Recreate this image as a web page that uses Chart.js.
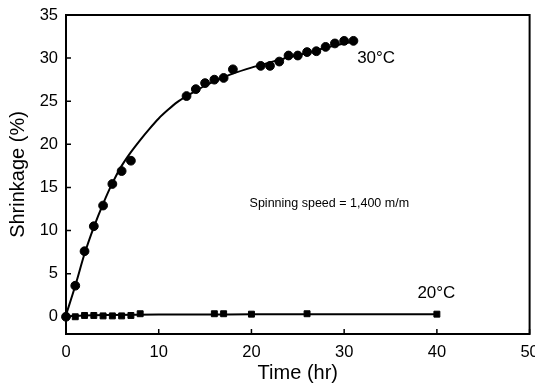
<!DOCTYPE html>
<html>
<head>
<meta charset="utf-8">
<script src="https://cdn.jsdelivr.net/npm/chart.js@4"></script>
<style>
  html, body { margin: 0; padding: 0; background: #fff; }
  #wrap { width: 535px; height: 389px; }
</style>
</head>
<body>
<div id="wrap"><canvas id="chart"></canvas></div>
<script>
// measured points, 30 C
const time30 = [0, 1, 2, 3, 4, 5, 6, 7, 13, 14, 15, 16, 17, 18, 21, 22, 23, 24, 25, 26, 27, 28, 29, 30, 31];
const shrink30 = [0, 3.6, 7.6, 10.5, 12.9, 15.4, 16.9, 18.1, 25.6, 26.4, 27.1, 27.5, 27.7, 28.7, 29.1, 29.1, 29.6, 30.3, 30.3, 30.7, 30.8, 31.3, 31.7, 32.0, 32.0];
// measured points, 20 C
const time20 = [0, 1, 2, 3, 4, 5, 6, 7, 8, 16, 17, 20, 26, 40];
const shrink20 = [0, 0, 0.15, 0.15, 0.1, 0.1, 0.1, 0.15, 0.35, 0.35, 0.35, 0.3, 0.35, 0.3];
// fitted curves
const fitTime30 = [0, 1, 2, 3, 4, 5, 6, 7, 8, 9, 10, 11, 12, 13, 14, 15, 16, 18, 20, 22, 24, 26, 28, 30, 31];
const fitShrink30 = [0.2, 3.6, 7.3, 10.4, 13.1, 15.5, 17.5, 19.1, 20.5, 21.8, 23.0, 24.0, 24.9, 25.6, 26.2, 26.8, 27.3, 28.2, 28.9, 29.5, 30.1, 30.6, 31.2, 31.7, 31.9];
const fitTime20 = [0, 2, 5, 10, 20, 30, 40];
const fitShrink20 = [0.05, 0.15, 0.2, 0.25, 0.28, 0.3, 0.3];
// axis ticks
const xTicks = [0, 10, 20, 30, 40, 50];
const yTicks = [0, 5, 10, 15, 20, 25, 30, 35];

const pts = (xs, ys) => xs.map((x, i) => ({ x: x, y: ys[i] }));

const FONT = '"Liberation Sans", Arial, sans-serif';

// inward ticks, frame and text labels
const framePlugin = {
  id: 'frame',
  afterDraw(chart) {
    const ctx = chart.ctx;
    const a = chart.chartArea;
    const xs = chart.scales.x, ys = chart.scales.y;
    ctx.save();
    ctx.strokeStyle = '#000';
    ctx.lineWidth = 2;
    ctx.strokeRect(a.left, a.top, a.right - a.left, a.bottom - a.top);
    ctx.lineWidth = 1.5;
    ctx.beginPath();
    xTicks.forEach(v => {
      const p = xs.getPixelForValue(v);
      ctx.moveTo(p, a.bottom); ctx.lineTo(p, a.bottom - 5);
    });
    yTicks.forEach(v => {
      const p = ys.getPixelForValue(v);
      ctx.moveTo(a.left, p); ctx.lineTo(a.left + 5, p);
    });
    ctx.stroke();

    ctx.fillStyle = '#000';
    ctx.textBaseline = 'middle';
    ctx.textAlign = 'left';
    ctx.font = '17px ' + FONT;
    ctx.fillText('30°C', xs.getPixelForValue(31.4), ys.getPixelForValue(30.0));
    ctx.fillText('20°C', xs.getPixelForValue(37.9), ys.getPixelForValue(2.7));
    ctx.font = '12.5px ' + FONT;
    ctx.fillText('Spinning speed = 1,400 m/m', xs.getPixelForValue(19.8), ys.getPixelForValue(13.1));
    ctx.restore();
  }
};

new Chart(document.getElementById('chart'), {
  type: 'scatter',
  data: {
    datasets: [
      {
        label: 'fit 30',
        data: pts(fitTime30, fitShrink30),
        showLine: true,
        borderColor: '#000',
        borderWidth: 2,
        pointRadius: 0,
        cubicInterpolationMode: 'monotone'
      },
      {
        label: 'fit 20',
        data: pts(fitTime20, fitShrink20),
        showLine: true,
        borderColor: '#000',
        borderWidth: 2,
        pointRadius: 0,
        cubicInterpolationMode: 'monotone'
      },
      {
        label: '30°C',
        data: pts(time30, shrink30),
        backgroundColor: '#000',
        borderColor: '#000',
        pointStyle: 'circle',
        pointRadius: 4.4
      },
      {
        label: '20°C',
        data: pts(time20, shrink20),
        backgroundColor: '#000',
        borderColor: '#000',
        pointStyle: 'rect',
        pointRadius: 4.2
      }
    ]
  },
  options: {
    responsive: true,
    maintainAspectRatio: false,
    animation: false,
    clip: false,
    layout: { padding: { top: 15, right: 5, left: 0, bottom: 0 } },
    plugins: {
      legend: { display: false },
      tooltip: { enabled: false }
    },
    scales: {
      x: {
        type: 'linear',
        min: 0,
        max: 50,
        afterBuildTicks: s => { s.ticks = xTicks.map(v => ({ value: v })); },
        afterFit: s => { s.height = 55; s.paddingLeft = 0; s.paddingRight = 0; },
        grid: { display: false, drawTicks: false },
        border: { display: false },
        ticks: { color: '#000', font: { family: FONT, size: 16.5 }, padding: 9 },
        title: { display: true, text: 'Time (hr)', color: '#000', font: { family: FONT, size: 20 }, padding: { top: 6 } }
      },
      y: {
        type: 'linear',
        min: -2,
        max: 35,
        afterBuildTicks: s => { s.ticks = yTicks.map(v => ({ value: v })); },
        afterFit: s => { s.width = 66; s.paddingTop = 0; s.paddingBottom = 0; },
        grid: { display: false, drawTicks: false },
        border: { display: false },
        ticks: { color: '#000', font: { family: FONT, size: 16.5 }, padding: 8 },
        title: { display: true, text: 'Shrinkage (%)', color: '#000', font: { family: FONT, size: 20 }, padding: { top: 6, bottom: 0 } }
      }
    }
  },
  plugins: [framePlugin]
});
</script>
</body>
</html>
